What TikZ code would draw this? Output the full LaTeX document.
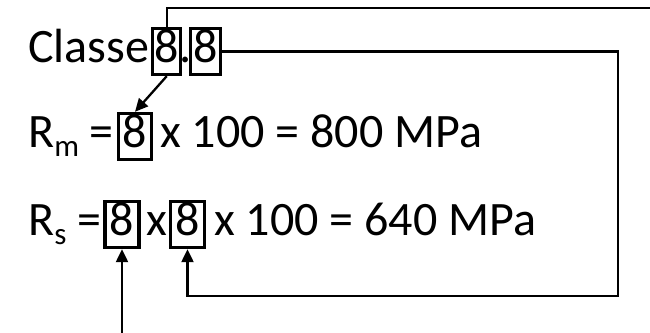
\documentclass[tikz,border=0pt]{standalone}
\usepackage{fontspec}
\setmainfont{Carlito}
\usetikzlibrary{arrows.meta}
\newcommand\lowsub[1]{\raisebox{-9pt}{\fontsize{31}{31}\selectfont #1}}
\begin{document}
\begin{tikzpicture}[x=1pt,y=1pt,
  txt/.style={inner sep=0pt, anchor=base west, font=\fontsize{48}{58}\selectfont},
  digitbox/.style={draw, line width=3.4pt, inner sep=0pt, anchor=base, text height=34.5pt, text depth=11.5pt, minimum width=#1, font=\fontsize{48}{58}\selectfont},
  conn/.style={line width=2.3pt},
  arr/.style={conn, -{Triangle[length=13pt,width=12pt]}}]
\useasboundingbox (0,0) rectangle (650,332);
\clip (0,0) rectangle (650,332);
% line 1
\node[txt] (classe) at (28,269) {Classe};
\node[digitbox=28pt] (c1) at (166.7,269) {8};
\node[txt, anchor=base] (dot) at (185.5,269) {.};
\node[digitbox=30pt] (c2) at (205.5,269) {8};
% line 2
\node[txt] (rm) at (28,184) {R\lowsub{m} =};
\node[digitbox=33pt] (m) at (135,184) {8};
\node[txt] (rmrest) at (160,184) {x 100 = 800 MPa};
% line 3
\node[txt] (rs) at (28,96) {R\lowsub{s} =};
\node[digitbox=34pt] (s1) at (122,96) {8};
\node[txt] (times) at (146,96) {x};
\node[digitbox=34pt] (s2) at (187.5,96) {8};
\node[txt] (rsrest) at (214,96) {x 100 = 640 MPa};
% connectors
\coordinate (tr) at (700,324);
\coordinate (bl) at (122,-30);
\coordinate (rc) at (617.7,36);
\draw[arr] (c1.north) |- (tr) |- (bl) -- (s1.south);
\draw[arr] (c2.east) -| (rc) -| (s2.south);
\draw[arr] (c1.south) -- (m.north);
\end{tikzpicture}
\end{document}
